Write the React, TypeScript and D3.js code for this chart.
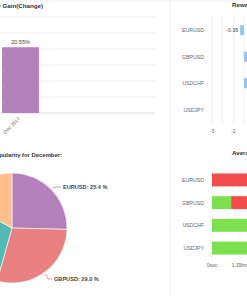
import React, { useEffect } from 'react';
import * as d3 from 'd3';

// monthly gain
const months = ['Dec 2017'];
const monthlyGain = [20.55];
const gainTicks = [0, 5, 10, 15, 20, 25, 30];

// pair popularity
const pairs = ['EURUSD', 'GBPUSD', 'USDCHF', 'USDJPY'];
const popularity = [25.4, 29.0, 28.5, 17.1];
const pieColors = ['#b480bb', '#e88080', '#52b9b3', '#ffc08e'];

// reward / risk
const rewardRisk = [-0.36, 1.4, 1.1, 0];
const rewardTicks = [-3, -1, 1, 3];

// average holding time (hours)
const avgWinHours = [0, 0.95, 4.2, 3.1];
const avgLossHours = [5.6, 3.0, 0, 0];
const timeTicks = [0, 1.39, 2.78, 4.17];
const timeLabels = ['0sec', '1.39hrs', '2.78hrs', '4.17hrs'];

const font = 'Liberation Sans, Arial, sans-serif';

const App: React.FC = () => {
  useEffect(() => {
    document.body.style.margin = '0';
  }, []);

  // top-left bar chart
  const x = d3.scaleBand().domain(months).range([0, 41]).paddingInner(0.1).paddingOuter(0.05);
  const y = d3.scaleLinear().domain([0, 30]).range([113, 17]);

  // pie
  const pie = d3.pie<number>().sort(null).startAngle(0).endAngle(2 * Math.PI);
  const arcs = pie(popularity);
  const radius = 55;
  const arc = d3.arc<d3.PieArcDatum<number>>().innerRadius(0).outerRadius(radius);
  const cx = 12;
  const cy = 228;

  // reward/risk
  const ry = d3.scaleBand().domain(pairs).range([17, 123]).paddingInner(0.62).paddingOuter(0.31);
  const rx = d3.scaleLinear().domain([-3, 7]).range([212, 318.7]);
  const rGrid = d3.range(-3, 8, 1);

  // holding time
  const ty = d3.scaleBand().domain(pairs).range([168.7, 259.3]).paddingInner(0.43).paddingOuter(0.21);
  const tx = d3.scaleLinear().domain([0, 6.95]).range([212, 352]);

  const labelPoint = (a: d3.PieArcDatum<number>) => {
    const mid = (a.startAngle + a.endAngle) / 2;
    return [cx + (radius + 2) * Math.sin(mid), cy - (radius + 2) * Math.cos(mid)];
  };

  return (
    <svg width={247} height={296} style={{ display: 'block', background: '#fff' }} fontFamily={font}>
      <line x1={0} x2={247} y1={1} y2={1} stroke="#eee" />
      <line x1={170} x2={170} y1={0} y2={296} stroke="#eee" />

      {/* Monthly gain */}
      <text x={43} y={8} textAnchor="end" fontSize={6.2} fontWeight="bold" fill="#333">
        Monthly Gain(Change)
      </text>
      {gainTicks.map((t) => (
        <line key={t} x1={0} x2={155} y1={y(t)} y2={y(t)} stroke={t === 0 ? '#ddd' : '#eee'} />
      ))}
      {months.map((m, i) => (
        <g key={m}>
          <rect
            x={x(m)}
            y={y(monthlyGain[i])}
            width={x.bandwidth()}
            height={y(0) - y(monthlyGain[i])}
            fill="#b480bb"
          />
          <text x={x(m)! + x.bandwidth() / 2} y={y(monthlyGain[i]) - 3} textAnchor="middle" fontSize={5.5} fill="#444">
            {monthlyGain[i].toFixed(2)}%
          </text>
          <text
            transform={`translate(${x(m)! + x.bandwidth() / 2},${y(0) + 6}) rotate(-45)`}
            textAnchor="end"
            fontSize={5}
            fill="#666"
          >
            {m}
          </text>
        </g>
      ))}

      {/* Pair popularity */}
      <text x={62} y={157} textAnchor="end" fontSize={5.9} fontWeight="bold" fill="#333">
        Pair Popularity for December:
      </text>
      <g transform={`translate(${cx},${cy})`}>
        {arcs.map((a, i) => (
          <path key={pairs[i]} d={arc(a)!} fill={pieColors[i]} stroke="#fff" strokeWidth={0.6} />
        ))}
      </g>
      {arcs.slice(0, 2).map((a, i) => {
        const [px, py] = labelPoint(a);
        const lx = i === 0 ? 61 : 52;
        const ly = i === 0 ? 187 : 279;
        return (
          <g key={pairs[i]}>
            <polyline points={`${px},${py} ${lx - 4},${ly} ${lx},${ly}`} fill="none" stroke={pieColors[i]} strokeWidth={0.8} />
            <text x={lx + 2} y={ly + 2} fontSize={5.6} fontWeight="bold" fill="#444">
              {pairs[i]}: {popularity[i].toFixed(1)} %
            </text>
          </g>
        );
      })}

      {/* Reward / risk */}
      <text x={232} y={7} fontSize={6.2} fontWeight="bold" fill="#333">
        Reward:Risk Ratio
      </text>
      {rGrid.map((t) => (
        <line key={t} x1={rx(t)} x2={rx(t)} y1={15} y2={125} stroke="#f0f0f0" />
      ))}
      {pairs.map((p, i) => {
        const v = rewardRisk[i];
        return (
          <g key={p}>
            <text x={204} y={ry(p)! + ry.bandwidth() / 2 + 2} textAnchor="end" fontSize={5.2} fill="#666">
              {p}
            </text>
            <rect
              x={rx(Math.min(0, v))}
              y={ry(p)}
              width={Math.abs(rx(v) - rx(0))}
              height={ry.bandwidth()}
              fill="#92c5f0"
            />
            {v < 0 && (
              <text x={rx(v) - 2} y={ry(p)! + ry.bandwidth() / 2 + 2} textAnchor="end" fontSize={5.2} fill="#444">
                {v.toFixed(2)}
              </text>
            )}
          </g>
        );
      })}
      {rewardTicks.map((t) => (
        <text key={t} x={rx(t)} y={133} textAnchor="middle" fontSize={5} fill="#666">
          {t}
        </text>
      ))}

      {/* Average holding time */}
      <text x={232} y={155} fontSize={6.2} fontWeight="bold" fill="#333">
        Average Holding Time
      </text>
      {timeTicks.map((t) => (
        <line key={t} x1={tx(t)} x2={tx(t)} y1={166} y2={260} stroke="#f0f0f0" />
      ))}
      {pairs.map((p, i) => (
        <g key={p}>
          <text x={204} y={ty(p)! + ty.bandwidth() / 2 + 2} textAnchor="end" fontSize={5.2} fill="#666">
            {p}
          </text>
          <rect x={tx(0)} y={ty(p)} width={tx(avgWinHours[i]) - tx(0)} height={ty.bandwidth()} fill="#7ce04f" />
          <rect
            x={tx(avgWinHours[i])}
            y={ty(p)}
            width={tx(avgWinHours[i] + avgLossHours[i]) - tx(avgWinHours[i])}
            height={ty.bandwidth()}
            fill="#f44d4d"
          />
        </g>
      ))}
      {timeTicks.map((t, i) => (
        <text key={t} x={tx(t)} y={267} textAnchor="middle" fontSize={5} fill="#666">
          {timeLabels[i]}
        </text>
      ))}
    </svg>
  );
};

export default App;
